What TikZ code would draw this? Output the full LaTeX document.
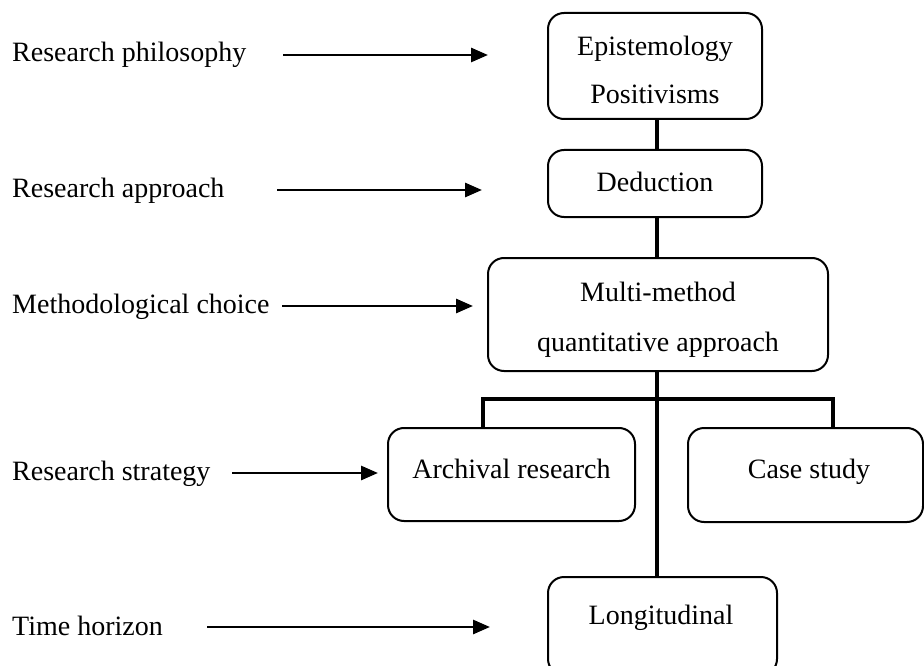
\documentclass[tikz,border=0pt]{standalone}
\usepackage{fontspec}
\setmainfont{Liberation Serif}
\usetikzlibrary{arrows.meta}
\begin{document}
\begin{tikzpicture}[x=1pt,y=-1pt,
  box/.style={draw, line width=2pt, rounded corners=16pt, inner sep=0pt},
  lbl/.style={font=\fontsize{28}{34}\selectfont, anchor=base, inner sep=0pt},
  side/.style={lbl, anchor=base west},
  link/.style={line width=4.5pt},
  arr/.style={line width=2.8pt, -{Triangle[length=17pt,width=14pt]}}]
\useasboundingbox (0,0) rectangle (924,666);
\clip (0,0) rectangle (924,666);
% boxes
\node[box, minimum width=214pt, minimum height=106pt] (epi) at (655,66) {};
\node[box, minimum width=214pt, minimum height=67pt] (ded) at (655,183.5) {};
\node[box, minimum width=340pt, minimum height=113pt] (multi) at (658,314.5) {};
\node[box, minimum width=247pt, minimum height=93pt] (arch) at (511.5,474.5) {};
\node[box, minimum width=235pt, minimum height=94pt] (case) at (805.5,475) {};
\node[box, minimum width=229pt, minimum height=98pt] (long) at (662.5,626) {};
% box texts
\node[lbl] (epit) at (655,56) {Epistemology};
\node[lbl] (posit) at (655,104) {Positivisms};
\node[lbl] (dedt) at (655,191) {Deduction};
\node[lbl] (multit) at (658,301) {Multi-method};
\node[lbl] (quantt) at (658,351) {quantitative approach};
\node[lbl] (archt) at (511.5,478) {Archival research};
\node[lbl] (caset) at (809,478) {Case study};
\node[lbl] (longt) at (661,624) {Longitudinal};
% connectors
\coordinate (spine) at (657,0);
\coordinate (barL) at (483,399);
\coordinate (barR) at (833,399);
\draw[link] (epi.south -| spine) -- (ded.north -| spine);
\draw[link] (ded.south -| spine) -- (multi.north -| spine);
\draw[link] (multi.south -| spine) -- (long.north -| spine);
\draw[link] (arch.north -| barL) -- (barL) -- (barR) -- (case.north -| barR);
% side labels
\node[side] (rp) at (12,62) {Research philosophy};
\node[side] (ra) at (12,197) {Research approach};
\node[side] (mc) at (12,313) {Methodological choice};
\node[side] (rs) at (12,480) {Research strategy};
\node[side] (th) at (12,635) {Time horizon};
\coordinate (rp-s) at (283,55);  \coordinate (rp-e) at (488,55);
\coordinate (ra-s) at (277,190); \coordinate (ra-e) at (482,190);
\coordinate (mc-s) at (282,306); \coordinate (mc-e) at (473,306);
\coordinate (rs-s) at (232,473); \coordinate (rs-e) at (378,473);
\coordinate (th-s) at (207,627); \coordinate (th-e) at (490,627);
\draw[arr] (rp-s) -- (rp-e);
\draw[arr] (ra-s) -- (ra-e);
\draw[arr] (mc-s) -- (mc-e);
\draw[arr] (rs-s) -- (rs-e);
\draw[arr] (th-s) -- (th-e);
\end{tikzpicture}
\end{document}
